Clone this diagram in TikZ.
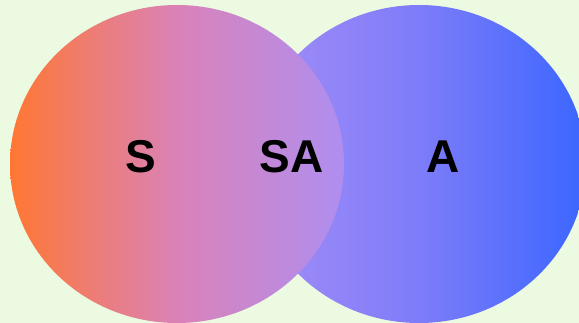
\documentclass[tikz,border=0pt]{standalone}
\usepackage{fontspec}
\setmainfont{Liberation Sans}
\definecolor{bgcol}{HTML}{EBFAE1}
\definecolor{sLeft}{HTML}{FF7733}
\definecolor{sMid}{HTML}{DA82B8}
\definecolor{sRight}{HTML}{AF8EF0}
\definecolor{aLeft}{HTML}{A48DF6}
\definecolor{aMid}{HTML}{7E7CF9}
\definecolor{aRight}{HTML}{3B66FF}
\tikzset{
  setlabel/.style={font=\fontsize{46}{50}\selectfont\bfseries, text=black, inner sep=0pt}
}
\begin{document}
\begin{tikzpicture}[x=1pt,y=-1pt]
  % canvas
  \fill[bgcol] (0,0) rectangle (579,323);
  \useasboundingbox (0,0) rectangle (579,323);
  \clip (0,0) rectangle (579,323);
  % right set A (middle color last, so it is not reset to the average)
  \shade[left color=aLeft, right color=aRight, middle color=aMid] (419,164) ellipse [x radius=167, y radius=159];
  % left set S, drawn on top
  \shade[left color=sLeft, right color=sRight, middle color=sMid] (177,164) ellipse [x radius=167, y radius=159];
  % labels
  \node[setlabel] (s) at (140.5,156.5) {S};
  \node[setlabel] (sa) at (291.7,156.5) {SA};
  \node[setlabel] (a) at (443,156.5) {A};
\end{tikzpicture}
\end{document}
